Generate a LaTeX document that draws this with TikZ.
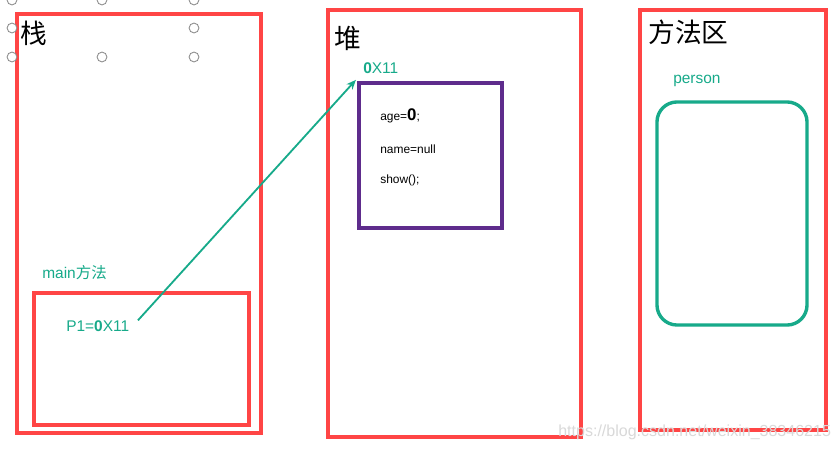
\documentclass[tikz,border=0pt]{standalone}
\usepackage{fontspec}
\setmainfont{Liberation Sans}
\newfontfamily\cjk{Noto Sans CJK SC}
\usepackage{xcolor}
\usetikzlibrary{arrows.meta, positioning, shadows}
\definecolor{MEM_RED}{HTML}{FF4545}
\definecolor{MEM_GREEN}{HTML}{17AA8A}
\definecolor{MEM_PURPLE}{HTML}{5E2C8C}
\definecolor{MEM_GRAY}{HTML}{8A8A8A}
\tikzset{
  area/.style={
    rectangle, draw=MEM_RED, line width=2.4pt, fill=white,
    drop shadow={shadow xshift=0.8pt, shadow yshift=-0.8pt, opacity=0.2}},
  objbox/.style={
    rectangle, draw=MEM_PURPLE, line width=2.4pt, fill=white,
    drop shadow={shadow xshift=0.8pt, shadow yshift=-0.8pt, opacity=0.2}},
  classbox/.style={
    rectangle, rounded corners=0.5cm, draw=MEM_GREEN, line width=2.4pt, fill=white,
    drop shadow={shadow xshift=0.8pt, shadow yshift=-0.8pt, opacity=0.2}},
  title/.style={anchor=west, inner sep=0pt, font=\cjk\fontsize{19}{22}\selectfont},
  glabel/.style={anchor=west, inner sep=0pt, text=MEM_GREEN, font=\fontsize{11}{13}\selectfont},
  field/.style={anchor=west, inner sep=0pt, font=\fontsize{8.5}{10}\selectfont},
  handle/.style={circle, draw=MEM_GRAY, fill=white, minimum size=7pt, inner sep=0pt, line width=0.6pt},
  ref/.style={-{Stealth[length=2.4mm,width=2mm]}, line width=1.3pt, color=MEM_GREEN},
}

\begin{document}
\begin{tikzpicture}[x=0.025cm, y=-0.025cm]

  \useasboundingbox[fill=white] (0,0) rectangle (840,451);

  % stack
  \node[area, minimum width=6.1cm, minimum height=10.475cm] (stack) at (139,223.5) {};
  \node[area, minimum width=5.375cm, minimum height=3.3cm] (mainfr) at (141.5,359) {};
  \node[title] (stacklbl) at (20,33) {栈};
  \node[glabel] (mainlbl) at (42,273) {main{\cjk 方法}};
  \node[glabel] (p1) at (66,326) {P1=\textbf{0}X11};

  % heap
  \node[area, minimum width=6.325cm, minimum height=10.675cm] (heap) at (454.5,223.5) {};
  \node[title] (heaplbl) at (334,38) {堆};
  \node[glabel] (addr) at (363,68) {\textbf{0}X11};
  \node[objbox, minimum width=3.575cm, minimum height=3.625cm] (obj) at (430.5,155.5) {};
  \node[field] (age) at (380,116) {age=\textbf{\large 0};};
  \node[field] (name) at (380,149) {name=null};
  \node[field] (show) at (380,180) {show();};

  % method area
  \node[area, minimum width=4.65cm, minimum height=10.5cm] (method) at (733,220) {};
  \node[title] (methodlbl) at (648,32) {方法区};
  \node[glabel] (personlbl) at (673,81) {person};
  \node[classbox, minimum width=3.75cm, minimum height=5.575cm] (person) at (732,213.5) {};

  % selection handles
  \foreach \hx/\hy [count=\i] in {12/0, 102/0, 194/0, 12/28, 194/28, 12/57, 102/57, 194/57}
    \node[handle] (h\i) at (\hx,\hy) {};

  \draw[ref] ([xshift=6pt,yshift=4pt]p1.east) -- ([xshift=-1pt,yshift=1pt]obj.north west);

  \node[anchor=west, inner sep=0pt, text=gray!30, font=\fontsize{11.4}{13}\selectfont] (wm) at (558,432)
    {https://blog.csdn.net/weixin\_38346215};

\end{tikzpicture}
\end{document}
